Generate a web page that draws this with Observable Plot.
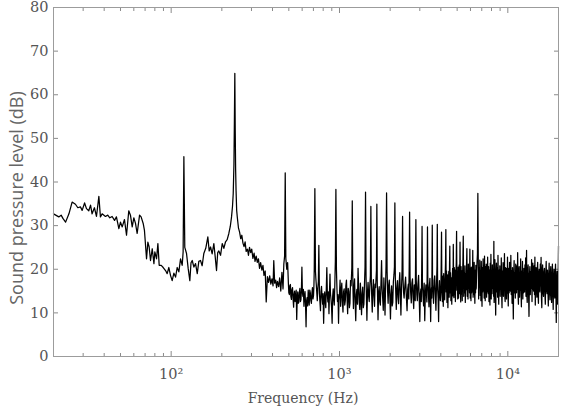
<!DOCTYPE html>
<html><head><meta charset="utf-8">
<script src="https://cdn.jsdelivr.net/npm/d3@7"></script>
<script src="https://cdn.jsdelivr.net/npm/@observablehq/plot@0.6"></script>
<style>
 html,body{margin:0;padding:0;background:#fff}
 #chart svg{display:block}
 g[aria-label="y-axis tick label"], g[aria-label="x-axis tick label"]{font-family:"DejaVu Serif";font-size:14.5px;fill:#555}
</style></head>
<body><div id="chart"></div>
<script>
// Spectrum: [frequency Hz, SPL dB]
const band20to120 = [[20,32.7],[21.5,32],[22.2,32.4],[22.8,31.6],[23.6,30.8],[24.7,32.7],[25.8,35.4],[27,34.9],[27.9,34.1],[28.9,34.3],[29.6,33.5],[30.6,35.2],[31.4,33.9],[32.4,33.4],[33.2,34.7],[33.9,32.7],[35,34.1],[36,32.1],[37.2,36.7],[38,32],[38.9,32.7],[40.7,32.1],[42,32.4],[43.2,31.8],[44.6,32.1],[46.1,31.2],[47.3,32],[48.9,29.3],[50,30.8],[51.2,29.7],[52.8,31.4],[54.3,27.8],[56,33.4],[57.3,32.4],[58.7,29.7],[60,31.8],[61.4,30.5],[62.8,28.2],[64.9,32.4],[66.3,32],[68.2,30.5],[69.4,28.9],[71.4,22.4],[72.7,26.2],[74,25.1],[75.4,22],[77.2,24.7],[79,21.3],[80,24],[81.9,22.4],[83.4,25.9],[84.9,20.9],[87.3,20.9],[89.7,20.4],[92.6,19.7],[94.7,19],[96.9,20.4],[99.1,18.6],[101.4,17.4],[103.8,19.1],[106.2,18.2],[108.6,20.4],[111.1,19.4],[113.7,22.4],[116.3,20.9],[117.8,24],[119,45.8],[120.5,25]];
const band120to250 = [[123.4,23.6],[126.2,20.2],[129.1,17.4],[131.2,21.5],[133.4,22],[136.5,20.5],[139.6,21.3],[142.9,19],[146,21.8],[149.4,22],[152.8,20.8],[156.3,23.6],[160.5,24.8],[165.2,27.4],[168.2,24.2],[171.4,25.1],[175.2,23.5],[179.3,25.9],[182.5,23],[186,19.7],[189,23.8],[192,24.2],[196.5,23.2],[201.1,25.9],[205.6,24.8],[210.4,26.3],[215.2,26.8],[220.1,28.2],[224.5,29.8],[228.4,32],[231.5,34.5],[233.7,37.3],[236,44],[237.5,54],[238.9,64.9],[240.2,52],[241.5,43],[243,38],[245,33.5],[247,32]];
const band250to500 = [[251,29.5],[255,28.5],[259,27],[263,27.8],[267,26],[271,25.2],[275,26.3],[279,24.1],[284,24.6],[288,23.2],[292,25],[297,23.8],[301,24.6],[306,22.5],[311,23.7],[315,21.8],[320,23],[325,21.6],[330,22.4],[335,20.2],[340,21.5],[346,19.8],[351,20.9],[356,18.6],[362,19.6],[367,12.5],[373,18.3],[379,17],[385,18.5],[391,16.6],[397,17.8],[403,16.2],[407,22],[412,16.8],[418,17.5],[423,15.8],[428,17.2],[435,16],[441,18],[448,15],[455,19.3],[462,15.5],[467,21.2],[472,23],[476,42.1],[480,22.5],[486,20],[492,21.5]];
const band500to1000 = [[497,16.8],[500,14.6],[504,14.2],[507,16.2],[511,16.5],[514,13.8],[518,13.1],[522,15.4],[526,15.8],[530,13.2],[534,11.3],[537,14.2],[541,15],[545,12.6],[549,13.6],[553,15.2],[557,8.5],[561,13.4],[565,14.8],[569,12.2],[573,12.4],[577,14.6],[582,15.6],[586,12.6],[590,13],[594,15.2],[598,20.5],[602,14.8],[606,13.8],[610,15.4],[615,11.5],[619,13.8],[624,14.9],[628,12.4],[633,6.8],[637,12.6],[642,13.5],[647,11.6],[652,15.2],[656,13.4],[661,11.8],[666,15.2],[671,14.6],[676,12.8],[681,12.2],[686,14.6],[691,15.8],[696,13.2],[701,14],[705,16.4],[708,19.9],[714,38.5],[720,19.5],[724,17.8],[728,16.5],[733,14.6],[738,12.8],[743,15.6],[749,17.2],[754,25.5],[760,14.5],[765,12.6],[771,10.5],[776,14.8],[782,16.1],[788,13.6],[794,12],[799,14.4],[805,7.6],[811,13.2],[817,14.8],[823,12.4],[829,11.2],[835,15.6],[841,20.4],[847,14.2],[853,12.5],[859,14.8],[866,9.8],[872,14.6],[878,18.9],[884,14.4],[891,13],[897,11.4],[904,7.6],[911,13.8],[918,15.5],[924,13.2],[931,11.8],[938,16.4],[945,21.9],[952,38.3],[959,20],[966,15.4],[973,12.6],[980,14.2],[987,7.6],[993,12.8]];
const band1000to2400 = [[1000,14.2],[1008,17.5],[1016,11.5],[1024,15.2],[1032,16.8],[1040,12.6],[1049,10.2],[1057,14.8],[1066,15.5],[1074,11.8],[1083,12.8],[1091,16.2],[1100,17.5],[1109,13.4],[1118,9.8],[1127,15.6],[1136,14.8],[1145,11.2],[1154,12.2],[1163,17.4],[1172,16.2],[1184,20.4],[1191,35.7],[1198,19.5],[1204,14.6],[1210,11],[1220,15.8],[1229,17.8],[1239,12.4],[1249,8.2],[1259,14.2],[1269,15.4],[1279,12],[1289,20.2],[1300,15.6],[1310,12.5],[1320,10.8],[1331,16.8],[1341,13.6],[1352,9.6],[1363,14.4],[1374,15.9],[1385,11.2],[1396,12],[1407,16.4],[1418,20.5],[1428,37.7],[1438,18.4],[1446,13.2],[1455,8.3],[1466,14.6],[1478,17],[1490,13.8],[1502,12.6],[1514,16.2],[1526,18.5],[1536,34.4],[1546,16.8],[1555,13.4],[1565,10.2],[1577,15.2],[1590,17.6],[1602,14],[1615,11.5],[1627,16.6],[1640,15.8],[1658,19.8],[1667,34.9],[1676,17.5],[1685,13.2],[1694,8.4],[1708,14.8],[1721,16],[1735,12.6],[1749,11.8],[1763,16.6],[1778,22],[1792,15.4],[1806,13.2],[1820,10.6],[1835,18],[1850,14.2],[1864,9.5],[1877,15.8],[1890,20.8],[1904,37.5],[1918,19.4],[1931,15],[1945,12.2],[1960,16.4],[1976,17.5],[1992,13.6],[2008,8.6],[2024,14.2],[2040,16.2],[2056,11.6],[2073,12.4],[2090,17.2],[2106,18.7],[2120,20.5],[2133,35.2],[2146,18.2],[2160,14.4],[2175,10.8],[2192,15.6],[2210,17.4],[2228,13.6],[2245,12.1],[2263,16.8],[2281,19.2],[2299,14.6],[2317,9.5],[2335,15.4],[2354,19.8],[2370,32.1],[2386,17.6]];
const band2400to4000 = [[2403,14.6],[2420,13.4],[2445,16.2],[2470,18.2],[2495,13.8],[2520,10.5],[2542,15.4],[2565,16.6],[2580,13.2],[2595,20.8],[2609,33.1],[2625,18.4],[2648,14.6],[2670,12.3],[2692,16.8],[2715,17.8],[2738,13.4],[2760,11],[2782,16.4],[2805,15.2],[2818,12.8],[2830,21],[2843,31.4],[2858,17.5],[2880,14.2],[2900,12.8],[2925,16.6],[2950,18.6],[2975,13.6],[3000,8],[3022,14.4],[3045,15.5],[3062,12.6],[3080,20.2],[3094,29.8],[3110,16.8],[3135,13.8],[3160,11.6],[3185,16.8],[3210,8.2],[3235,14.2],[3260,16.4],[3282,14.8],[3305,12.5],[3320,20.5],[3332,29.7],[3348,17.2],[3374,14.6],[3400,11.4],[3422,16.2],[3445,17.9],[3462,13.2],[3480,8],[3500,14.4],[3520,15.8],[3532,13.4],[3545,21],[3557,30.1],[3572,16.5],[3596,14.8],[3620,12.2],[3650,17.4],[3680,18.5],[3710,14.2],[3740,10.6],[3768,16.2],[3795,20.8],[3811,30.3],[3828,15.4],[3854,13.4],[3880,8],[3902,15.6],[3925,17.4],[3950,14.2],[3975,12.8]];
const band4000to6700 = [[4000,14.8],[4020,21.2],[4038,28.5],[4056,16.2],[4085,12.6],[4110,18.4],[4135,11.5],[4160,19],[4188,14.6],[4215,13],[4240,17.8],[4265,21.5],[4284,29.1],[4303,14.8],[4325,19.6],[4350,12.4],[4378,18.7],[4405,11.2],[4432,17.2],[4460,19.5],[4483,13.6],[4505,21],[4522,25.3],[4540,14.6],[4565,19.2],[4590,12.8],[4618,18],[4645,12],[4672,17.6],[4700,20.2],[4722,13.9],[4743,25.7],[4765,15.6],[4785,13.5],[4808,20.4],[4830,14.2],[4855,19.8],[4880,12.6],[4910,18.4],[4940,21.5],[4961,28.7],[4985,15.2],[5012,19.4],[5040,13.2],[5068,20.5],[5095,13.4],[5122,18.2],[5150,21],[5175,14.4],[5200,26.2],[5225,15.8],[5250,12.5],[5275,20.6],[5300,14.3],[5330,19.6],[5360,12.8],[5385,18.6],[5410,21.8],[5436,27.6],[5470,13.8],[5500,19.2],[5530,14.6],[5560,20.8],[5590,12.4],[5620,18.8],[5650,15.3],[5680,20.4],[5712,24.7],[5740,13.8],[5770,19.6],[5800,13.2],[5830,21.2],[5860,15.6],[5890,19.8],[5920,14.6],[5950,24.6],[5980,13.4],[6010,20.2],[6040,12.8],[6070,20.5],[6100,14.6],[6130,19.4],[6160,15],[6190,24.3],[6220,13.6],[6250,20.4],[6280,14.2],[6310,21.6],[6340,15.4],[6370,12.2],[6400,19.8],[6430,14.6],[6460,20.9],[6490,15.5],[6525,19.2],[6560,21.5],[6600,23.5],[6637,37.4],[6675,22]];
const band6700to10000 = [[6710,13.2],[6745,20.4],[6780,15.8],[6815,22.1],[6850,14],[6885,19.6],[6920,12.8],[6955,21.8],[6990,16.2],[7025,11.5],[7060,20.4],[7095,14.8],[7130,22.4],[7165,15.2],[7200,19.8],[7235,13.4],[7270,23],[7305,16.4],[7340,12.8],[7375,20.6],[7410,15.4],[7445,21.2],[7480,13.6],[7515,19.4],[7550,14.8],[7585,22.8],[7620,16],[7655,14.4],[7690,20.6],[7725,12.6],[7760,19.8],[7795,15.6],[7830,11.8],[7865,21.4],[7900,16.8],[7935,23.4],[7970,13.2],[8005,19.6],[8050,14.4],[8095,21],[8140,15.6],[8185,19.2],[8230,13.8],[8261,26.4],[8290,12.4],[8335,19.8],[8380,22.2],[8425,15.2],[8470,9.5],[8515,18.6],[8560,21.4],[8605,14.8],[8650,20.2],[8695,13.6],[8740,23.2],[8785,16.4],[8830,12],[8875,19.8],[8920,15.2],[8965,20.8],[9010,13.8],[9055,18.6],[9100,15.4],[9145,22.6],[9190,14.2],[9235,11.2],[9280,19.6],[9325,16],[9370,21.5],[9415,13.8],[9460,18.8],[9505,15.6],[9550,23.6],[9595,14],[9640,12.6],[9685,20.4],[9730,16.6],[9775,20.2],[9820,13.2],[9865,18.6],[9910,14.5],[9955,22.8]];
const band10000to20000 = [[10000,15.8],[10060,11.6],[10120,20.2],[10180,14.6],[10240,21.6],[10300,16.4],[10360,15],[10420,23.2],[10480,14.2],[10540,19.6],[10600,12.2],[10660,20.4],[10720,15.8],[10780,8.6],[10840,18.8],[10900,22],[10960,14.6],[11020,19.2],[11080,13.4],[11140,21.2],[11200,16.2],[11260,14.6],[11320,20.8],[11380,15.4],[11440,23.8],[11500,14.2],[11560,12],[11620,19.4],[11680,20.6],[11740,13.6],[11800,18.4],[11860,15.2],[11920,22.4],[11980,14.8],[12040,11.4],[12100,19.6],[12160,15.8],[12220,21.8],[12280,13.2],[12340,18.8],[12400,14.6],[12460,20.2],[12520,16.2],[12580,14.8],[12640,21],[12700,15.4],[12760,22.6],[12820,13.8],[12880,18.4],[12920,24.3],[12960,14.4],[13040,12.4],[13120,19.8],[13200,21],[13280,14.6],[13360,9.2],[13440,18.6],[13520,20.6],[13600,14.2],[13680,19.4],[13760,15.6],[13840,22.2],[13920,12.6],[14000,18.8],[14080,21.4],[14160,15.8],[14240,15],[14320,20.8],[14400,14.2],[14480,22.8],[14560,11.8],[14640,18.6],[14720,20.4],[14800,15.2],[14880,13.6],[14960,19.8],[15040,21.6],[15120,14.4],[15200,12.2],[15280,18.8],[15360,20],[15440,15.6],[15520,14.8],[15600,21.2],[15680,16.2],[15760,22.7],[15840,13.4],[15920,11.2],[16000,19.6],[16100,21],[16200,14.6],[16300,13.8],[16400,19.4],[16500,20.2],[16600,14.8],[16700,12],[16800,18.6],[16900,21.8],[17000,15.2],[17100,14.4],[17200,19.8],[17300,15.6],[17400,11.6],[17500,18.4],[17600,21.4],[17700,15],[17800,13],[17900,19.2],[18000,20.6],[18100,14.6],[18200,12.4],[18300,18.2],[18400,21.2],[18500,15.4],[18600,10.8],[18700,17.6],[18800,20],[18900,14.8],[19000,13.4],[19100,18.6],[19200,21.2],[19300,15.2],[19400,7.8],[19500,16.4],[19600,19.5],[19700,14.2],[19800,12],[19900,18.4],[20000,25.3]];

const yTicks = [0,10,20,30,40,50,60,70,80];
const xMajorTicks = [100,1000,10000];
const xMinorTicks = [20,30,40,50,60,70,80,90,200,300,400,500,600,700,800,900,2000,3000,4000,5000,6000,7000,8000,9000,20000];
const superscripts = {2:"\u00B2",3:"\u00B3",4:"\u2074"};
const xTitle = "Frequency (Hz)";
const yTitle = "Sound pressure level (dB)";

const spectrum = [...band20to120, ...band120to250, ...band250to500, ...band500to1000, ...band1000to2400,
  ...band2400to4000, ...band4000to6700, ...band6700to10000, ...band10000to20000].map(([f, db]) => ({f, db}));

const tickColor = "#8a8a8a";
const chart = Plot.plot({
  width: 566, height: 406,
  marginLeft: 53, marginRight: 8, marginTop: 7, marginBottom: 50,
  x: {type: "log", domain: [20, 20000]},
  y: {domain: [0, 80]},
  marks: [
    Plot.axisX(xMajorTicks, {anchor: "bottom", tickSize: 0, tickPadding: 12,
      tickFormat: d => "10" + superscripts[Math.round(Math.log10(d))], label: null}),
    Plot.axisX(xMajorTicks, {anchor: "bottom", tickSize: -5, tickFormat: () => "", label: null, stroke: tickColor}),
    Plot.axisX(xMinorTicks, {anchor: "bottom", tickSize: -3, tickFormat: () => "", label: null, stroke: tickColor}),
    Plot.axisX(xMajorTicks, {anchor: "top", tickSize: -5, tickFormat: () => "", label: null, stroke: tickColor}),
    Plot.axisX(xMinorTicks, {anchor: "top", tickSize: -3, tickFormat: () => "", label: null, stroke: tickColor}),
    Plot.axisY(yTicks, {anchor: "left", tickSize: 0, tickPadding: 5, label: null}),
    Plot.axisY(yTicks, {anchor: "left", tickSize: -5, tickFormat: () => "", label: null, stroke: tickColor}),
    Plot.axisY(yTicks, {anchor: "right", tickSize: -5, tickFormat: () => "", label: null, stroke: tickColor}),
    Plot.line(spectrum, {x: "f", y: "db", stroke: "#000", strokeWidth: 1.25}),
    Plot.frame({stroke: "#9c9c9c"}),
    Plot.text([xTitle], {text: d => d, frameAnchor: "bottom", dx: -3, dy: 42, textAnchor: "middle", lineAnchor: "middle",
      fontFamily: "DejaVu Serif", fontSize: 14, fill: "#555"}),
    Plot.text([yTitle], {text: d => d, frameAnchor: "left", dx: -36, dy: 16, rotate: -90, textAnchor: "middle", lineAnchor: "middle",
      fontFamily: "Open Sans", fontSize: 18, fill: "#666"})
  ]
});
document.getElementById("chart").appendChild(chart);
</script>
</body></html>
